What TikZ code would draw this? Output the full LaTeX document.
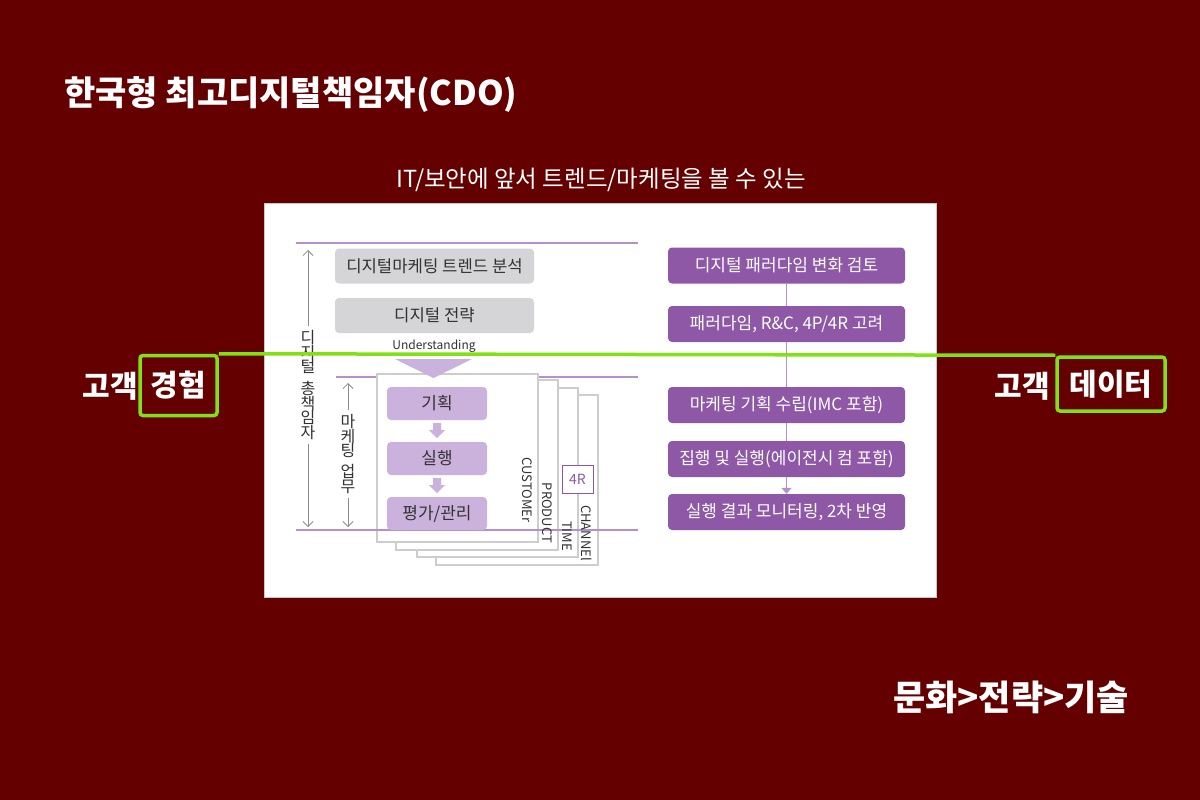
\documentclass[tikz,border=0pt]{standalone}
\usepackage{fontspec}
\setmainfont{Noto Sans CJK KR}
\usetikzlibrary{arrows.meta}
\definecolor{bg}{RGB}{100,0,0}
\definecolor{lime}{RGB}{128,226,20}
\definecolor{dpurple}{RGB}{142,88,166}
\definecolor{lpurple}{RGB}{203,178,220}
\definecolor{pline}{RGB}{180,145,205}
\definecolor{graybox}{RGB}{213,213,215}
\definecolor{pagegray}{RGB}{205,205,205}
\definecolor{textdark}{RGB}{50,50,50}
\definecolor{arrowgray}{RGB}{140,140,140}
\definecolor{panelborder}{RGB}{200,200,200}
\tikzset{
  fs/.style={font=\fontsize{#1}{#1}\selectfont},
  grayboxst/.style={fill=graybox, rounded corners=4pt, minimum width=199pt, minimum height=35pt, inner sep=0pt, fs=16.7, text=textdark},
  lpbox/.style={fill=lpurple, rounded corners=4pt, minimum width=100pt, minimum height=33pt, inner sep=0pt, fs=17, text=textdark},
  pbox/.style={fill=dpurple, rounded corners=4pt, minimum width=237pt, minimum height=36pt, inner sep=0pt, fs=17, text=white},
  purpleline/.style={draw=pline, line width=1.2pt},
  garrow/.style={draw=arrowgray, line width=0.8pt, -{Straight Barb[length=5pt,width=10pt]}},
  vtext/.style={align=center, fs=16, text=textdark, inner sep=0pt, outer sep=5pt},
  page/.style={draw=pagegray, line width=2.8pt, fill=white},
  rotlabel/.style={rotate=-90, fs=13, text=textdark, inner sep=0pt},
  bigwhite/.style={text=white, font=\bfseries\fontsize{#1}{#1}\selectfont},
  greenbox/.style={draw=lime, line width=3.5pt, rounded corners=3pt, inner sep=0pt},
  conn/.style={draw=pline, line width=1.8pt}
}
\begin{document}
\begin{tikzpicture}[x=1pt,y=-1pt]
\fill[bg] (0,0) rectangle (1200,800);
\useasboundingbox (0,0) rectangle (1200,800);

% title and subtitle
\node[bigwhite=34, anchor=west, inner sep=0pt] (title) at (64,95) {한국형 최고디지털책임자(CDO)};
\node[text=white, fs=23.5, inner sep=0pt] (sub) at (601,180) {IT/보안에 앞서 트렌드/마케팅을 볼 수 있는};

% panel
\node[draw=panelborder, fill=white, line width=1pt, minimum width=672pt, minimum height=394pt, inner sep=0pt, anchor=north west] (panel) at (264,203) {};

% purple horizontal lines
\draw[purpleline] (296,243) -- (638,243);
\draw[purpleline] (336,377) -- (638,377);

% stacked pages (back to front)
\draw[page] (436,395) rectangle (598,565);
\draw[page] (417,388) rectangle (578,557);
\draw[page] (396,380) rectangle (558,550);
\draw[page] (377,374) rectangle (538,542);

\draw[purpleline] (296,530) -- (638,530);

% page labels
\node[rotlabel] (cust) at (527,490) {CUSTOMEr};
\node[rotlabel] (prod) at (547,513) {PRODUCT};
\node[rotlabel] (time) at (567,536) {TIME};
\node[rotlabel] (chan) at (587,533) {CHANNEl};
\node[draw=dpurple, fill=white, line width=0.8pt, minimum width=31pt, minimum height=28pt, inner sep=0pt, text=dpurple, fs=14] (fourr) at (577.5,479) {4R};

% gray boxes
\node[grayboxst] (g1) at (434.5,266) {디지털마케팅 트렌드 분석};
\node[grayboxst] (g2) at (434.5,315.5) {디지털 전략};
\node[fs=12, text=textdark, inner sep=0pt] (und) at (434,346) {Understanding};
\fill[lpurple] (395,359) -- (472,359) -- (433.5,378) -- cycle;

% light purple boxes
\node[lpbox] (k1) at (437,403.5) {기획};
\node[lpbox] (k2) at (437,458.5) {실행};
\node[lpbox] (k3) at (437,513.5) {평가/관리};
\fill[lpurple, shift={(k1.south)}] (-4,3) -- (4,3) -- (4,10) -- (8,10) -- (0,18) -- (-8,10) -- (-4,10) -- cycle;
\fill[lpurple, shift={(k2.south)}] (-4,3) -- (4,3) -- (4,10) -- (8,10) -- (0,18) -- (-8,10) -- (-4,10) -- cycle;

% vertical labels with arrows
\node[vtext] (dchief) at (308,385) {디\\[-1.5pt]지\\[-1.5pt]털\\[6pt]총\\[-1.5pt]책\\[-1.5pt]임\\[-1.5pt]자};
\coordinate (dtop) at (308,250);
\coordinate (dbot) at (308,527);
\draw[garrow] (dchief.north) -- (dtop);
\draw[garrow] (dchief.south) -- (dbot);

\node[vtext] (mwork) at (348,454) {마\\[-1.5pt]케\\[-1.5pt]팅\\[5pt]업\\[-1.5pt]무};
\coordinate (mtop) at (348,383);
\coordinate (mbot) at (348,527);
\draw[garrow] (mwork.north) -- (mtop);
\draw[garrow] (mwork.south) -- (mbot);

% right column
\node[pbox] (r1) at (786.5,265.5) {디지털 패러다임 변화 검토};
\node[pbox] (r2) at (786.5,324) {패러다임, R\&C, 4P/4R 고려};
\node[pbox] (r3) at (786.5,405) {마케팅 기획 수립(IMC 포함)};
\node[pbox] (r4) at (786.5,459) {집행 및 실행(에이전시 컴 포함)};
\node[pbox] (r5) at (786.5,512) {실행 결과 모니터링, 2차 반영};
\draw[conn] (r1) -- (r2);
\draw[conn] (r2) -- (r3);
\draw[conn] (r3) -- (r4);
\draw[conn, -{Triangle[width=10pt,length=6pt]}] (r4) -- (r5);

% side labels with green boxes
\node[greenbox, minimum width=77pt, minimum height=60pt] (lexp) at (178.5,385.5) {};
\node[bigwhite=30, inner sep=0pt] (lexpt) at (lexp) {경험};
\node[bigwhite=30, inner sep=0pt] (lcust) at (110,386) {고객};

\node[greenbox, minimum width=108pt, minimum height=54pt] (rdata) at (1111,384) {};
\node[bigwhite=30, inner sep=0pt] (rdatat) at (rdata) {데이터};
\node[bigwhite=30, inner sep=0pt] (rcust) at (1022,386) {고객};

\draw[draw=lime, line width=3.5pt] (lexp.north east) -- (rdata.north west);

% bottom text
\node[bigwhite=35, inner sep=0pt] (culture) at (1011,697) {문화>전략>기술};
\end{tikzpicture}
\end{document}
